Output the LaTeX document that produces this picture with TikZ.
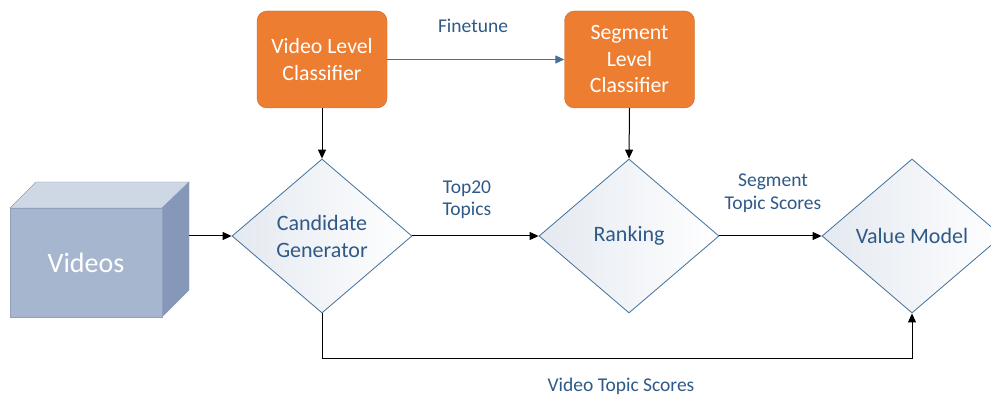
\documentclass[tikz,border=0pt]{standalone}
\usepackage{fontspec}
\setmainfont{Carlito}
\usetikzlibrary{shapes.geometric,arrows.meta}
\definecolor{orangebox}{HTML}{ED7D31}
\definecolor{labelblue}{HTML}{2F5A88}
\definecolor{edgeblue}{HTML}{41719C}
\definecolor{cubefront}{HTML}{A6B6CF}
\definecolor{cubetop}{HTML}{CED8E4}
\definecolor{cubeside}{HTML}{8598B9}
\definecolor{cubeedge}{HTML}{8EA0BC}
\definecolor{diamondshade}{HTML}{E4E9F0}
\tikzset{
  classifier/.style={draw=orangebox!85!black, line width=0.4pt, fill=orangebox, rounded corners=10pt,
    minimum width=130pt, minimum height=97pt, inner sep=2pt, text=white, align=center,
    font=\fontsize{21.8}{26.5}\selectfont},
  decision/.style={diamond, draw=edgeblue, line width=0.8pt, left color=diamondshade, right color=white,
    minimum width=180pt, minimum height=154pt, aspect=1.17, inner sep=0pt, text=labelblue, align=center,
    font=\fontsize{22}{27}\selectfont},
  flow/.style={draw=black, line width=1pt, -{Triangle[length=9pt,width=8pt]}},
  lbl/.style={text=labelblue, align=center, font=\fontsize{19.5}{22.5}\selectfont},
}
\begin{document}
\begin{tikzpicture}[x=1pt, y=-1pt]
\clip (0,0) rectangle (991,398);
\fill[white] (0,0) rectangle (991,398);

% Videos cube
\filldraw[fill=cubetop, draw=cubeedge] (10,208) -- (36,182) -- (189,182) -- (162,208) -- cycle;
\filldraw[fill=cubeside, draw=cubeedge] (162,208) -- (189,182) -- (189,290) -- (162,317) -- cycle;
\node[draw=cubeedge, fill=cubefront, minimum width=152pt, minimum height=109pt, inner sep=0pt,
  text=white, font=\fontsize{28}{32}\selectfont] (videos) at (86,262.5) {Videos};
\coordinate (videosout) at (189,236);

% Classifiers
\node[classifier] (vlc) at (322,59.5) {Video Level\\Classifier};
\node[classifier] (slc) at (629.5,59.5) {Segment\\Level\\Classifier};

% Decision diamonds
\node[decision] (cand) at (322,236) {Candidate\\Generator};
\node[decision] (rank) at (629,236) {Ranking};
\node[decision] (value) at (912,236) {Value Model};

% Connectors
\draw[flow] (videosout) -- (cand.west);
\draw[draw=edgeblue, line width=1pt, -{Triangle[length=9pt,width=8pt]}] (vlc.east) -- (slc.west);
\draw[flow] (vlc.south) -- (cand.north);
\draw[flow] (slc.south) -- (rank.north);
\draw[flow] (cand.east) -- (rank.west);
\draw[flow] (rank.east) -- (value.west);
\coordinate (loopleft) at (322,358);
\coordinate (loopright) at (912,358);
\draw[flow] (cand.south) -- (loopleft) -- (loopright) -- (value.south);

% Edge labels
\node[lbl] (finetune) at (473,26) {Finetune};
\node[lbl] (top20) at (467,199.5) {Top20\\Topics};
\node[lbl] (segscores) at (773,193) {Segment\\Topic Scores};
\node[lbl] (vidscores) at (621,386) {Video Topic Scores};
\end{tikzpicture}
\end{document}
